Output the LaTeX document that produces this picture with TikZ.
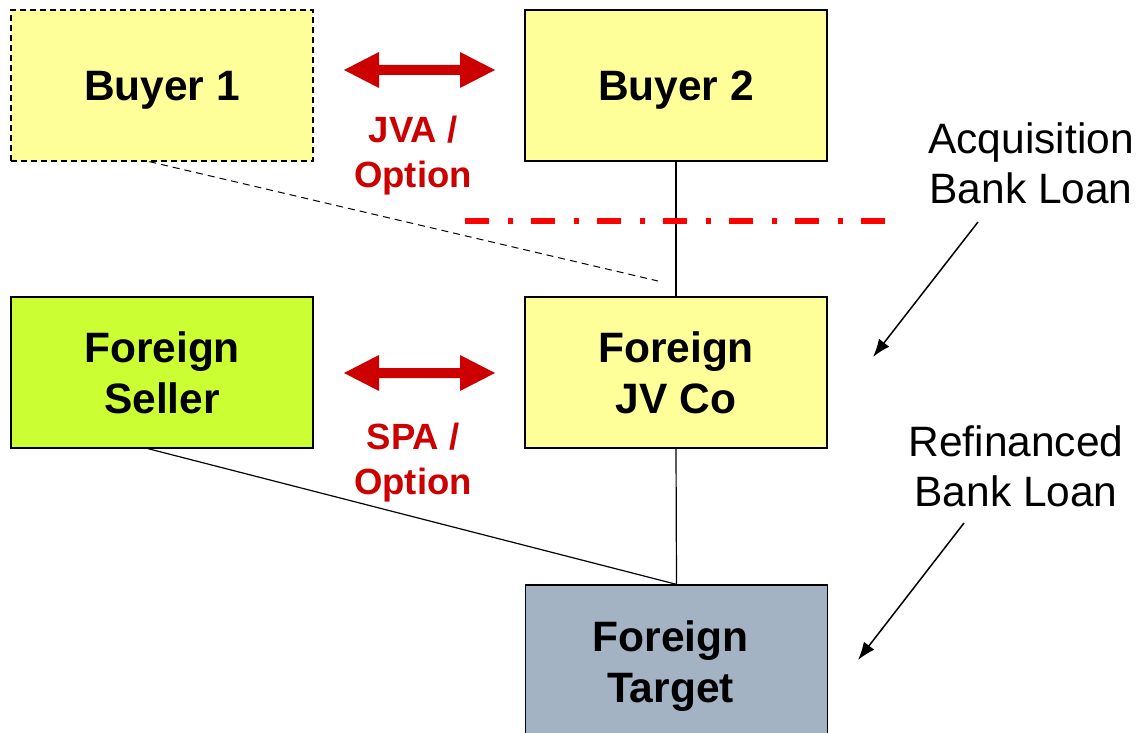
\documentclass[tikz,border=0pt]{standalone}
\usepackage{fontspec}
\setmainfont{Liberation Sans}
\usetikzlibrary{arrows.meta}
\definecolor{boxyellow}{HTML}{FFFF99}
\definecolor{boxgreen}{HTML}{CCFF33}
\definecolor{boxgrey}{HTML}{A3B3C3}
\definecolor{darkred}{HTML}{CC0000}
\definecolor{brightred}{HTML}{FF0000}
\tikzset{
  entity/.style={draw=black, line width=1.3pt, minimum width=302pt, minimum height=151pt,
    align=center, font=\fontsize{42.5}{51}\selectfont\bfseries, inner sep=0pt},
  oneline/.style={text height=31pt, text depth=0pt},
  rel/.style={text=darkred, align=center, font=\fontsize{36.5}{45}\selectfont\bfseries},
  note/.style={align=center, font=\fontsize{42.5}{50}\selectfont},
  link/.style={draw=black, line width=1.2pt},
  pointer/.style={draw=black, line width=1.5pt, -{Latex[length=18pt,width=13pt]}},
  dblarrow/.style={fill=darkred, draw=none}
}
\begin{document}
\begin{tikzpicture}[x=1pt,y=-1pt]
\useasboundingbox (0,0) rectangle (1138,733);
% boxes
\node[entity, oneline, fill=boxyellow, dashed, dash pattern=on 6pt off 4pt] (b1) at (162,85.5) {Buyer 1};
\node[entity, oneline, fill=boxyellow] (b2) at (676,85.5) {Buyer 2};
\node[entity, fill=boxgreen] (fs) at (162,372.5) {Foreign\\Seller};
\node[entity, fill=boxyellow] (jv) at (676,372.5) {Foreign\\JV Co};
\node[entity, fill=boxgrey, minimum height=160pt] (ft) at (676.5,665) {};
\node[font=\fontsize{42.5}{51}\selectfont\bfseries, align=center] (ftl) at (670.5,666) {Foreign\\Target};
% connectors
\coordinate (dashend) at (658,281);
\draw[link, dashed, line width=1pt, dash pattern=on 7pt off 5pt] (b1.south west) ++(139,0) coordinate (b1a) -- (dashend);
\draw[link] (b2.south) -- (jv.north);
\draw[link] (jv.south) -- (ft.north);
\coordinate (fsa) at ([xshift=-14pt]fs.south);
\draw[link] (fsa) -- (ft.north);
% red dash-dot line
\coordinate (rl1) at (465,221);
\coordinate (rl2) at (886,221);
\draw[brightred, line width=6pt, dash pattern=on 24pt off 18.5pt on 5pt off 18.5pt] (rl1) -- (rl2);
% double arrows
\foreach \cy/\nm in {70/jva, 373/spa}{
  \fill[dblarrow] (344,\cy) -- (379,\cy-18) -- (379,\cy-5) -- (460,\cy-5) -- (460,\cy-18) -- (495,\cy) -- (460,\cy+18) -- (460,\cy+5) -- (379,\cy+5) -- (379,\cy+18) -- cycle;
}
\node[rel] (jval) at (413,155.5) {JVA /\\Option};
\node[rel] (spal) at (413,462.5) {SPA /\\Option};
% notes
\node[note] (acq) at (1031,163) {Acquisition\\Bank Loan};
\node[note] (ref) at (1016,466) {Refinanced\\Bank Loan};
\coordinate (acqa) at (978,222);
\coordinate (acqb) at (873,357);
\coordinate (refa) at (964,523);
\coordinate (refb) at (858,660);
\draw[pointer] (acqa) -- (acqb);
\draw[pointer] (refa) -- (refb);
\end{tikzpicture}
\end{document}
